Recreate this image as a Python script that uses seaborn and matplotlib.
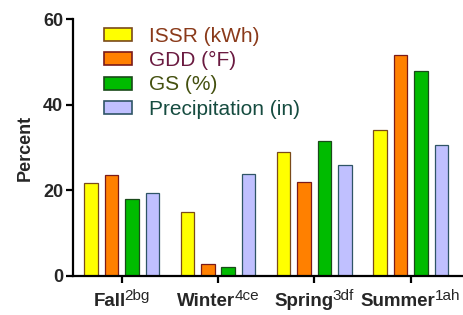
import numpy as np
import pandas as pd
import seaborn as sns
import matplotlib.pyplot as plt
from matplotlib.transforms import IdentityTransform

seasons = ['Fall', 'Winter', 'Spring', 'Summer']
season_sup = ['2bg', '4ce', '3df', '1ah']
variables = ['ISSR (kWh)', 'GDD (°F)', 'GS (%)', 'Precipitation (in)']
issr = [21.8, 14.9, 29.0, 34.2]
gdd = [23.6, 2.8, 22.0, 51.6]
gs = [18.0, 2.1, 31.6, 47.9]
precip = [19.4, 23.7, 26.0, 30.6]

fill_colors = ['#ffff00', '#ff8000', '#00bb00', '#c0c0ff']
edge_colors = ['#7a4a1a', '#7a1a1a', '#1a4a1a', '#2f5566']
text_colors = ['#8a3a1a', '#6a1a40', '#44500f', '#164c40']

sns.set_style('ticks')
plt.rcParams['font.family'] = ['Liberation Sans', 'DejaVu Sans']

df = pd.DataFrame({
    'season': np.repeat(seasons, 4),
    'variable': variables * 4,
    'value': np.ravel(np.column_stack([issr, gdd, gs, precip])),
})

fig = plt.figure(figsize=(4.64, 3.15), dpi=100)
ax = fig.add_axes([73 / 464, 39 / 315, 1 - 73 / 464, 257 / 315])

sns.barplot(ax=ax, data=df, x='season', y='value', hue='variable',
            hue_order=variables, palette=fill_colors, width=0.85, gap=0.34,
            saturation=1, errorbar=None)

# per-series edge colours
for cont, ec in zip(ax.containers, edge_colors):
    for p in cont:
        p.set_edgecolor(ec)
        p.set_linewidth(0.9)

ax.set_xlim(-0.506, 3.555)
ax.set_ylim(0, 60)
ax.set_yticks([0, 20, 40, 60])
ax.set_xticks(range(4))
ax.set_xticklabels([''] * 4)
for t in ax.get_yticklabels():
    t.set_fontweight('bold')
    t.set_fontsize(13)
ax.set_xlabel('')
ax.set_ylabel('Percent', fontsize=13, fontweight='bold', labelpad=7)

sns.despine(ax=ax)
for s in ['left', 'bottom']:
    ax.spines[s].set_linewidth(1.6)
    ax.spines[s].set_color('black')
ax.tick_params(width=1.6, length=5, color='black', pad=2)

leg = ax.legend(loc='upper left', bbox_to_anchor=(104 / 464, 1 - 27 / 315),
                bbox_transform=fig.transFigure, frameon=False, fontsize=15,
                handlelength=1.35, handleheight=0.58, handletextpad=0.8,
                labelspacing=0.25, borderpad=0, borderaxespad=0)
for txt, c in zip(leg.get_texts(), text_colors):
    txt.set_color(c)
for h, ec in zip(leg.legend_handles, edge_colors):
    h.set_edgecolor(ec)
    h.set_linewidth(1.2)

# category labels: bold name + superscript letters, centred on each tick
renderer = fig.canvas.get_renderer()
ident = IdentityTransform()
for i, (s, sp) in enumerate(zip(seasons, season_sup)):
    xpix = ax.transData.transform((i, 0))[0]
    main = fig.text(0, 9, s, fontsize=13.5, fontweight='bold',
                    va='baseline', transform=ident)
    sup = fig.text(0, 15, sp, fontsize=11, va='baseline', transform=ident)
    w1 = main.get_window_extent(renderer).width
    w2 = sup.get_window_extent(renderer).width
    x0 = xpix - (w1 + w2 - 1) / 2
    main.set_x(x0)
    sup.set_x(x0 + w1 - 1)

fig.savefig('out.png', dpi=100)
